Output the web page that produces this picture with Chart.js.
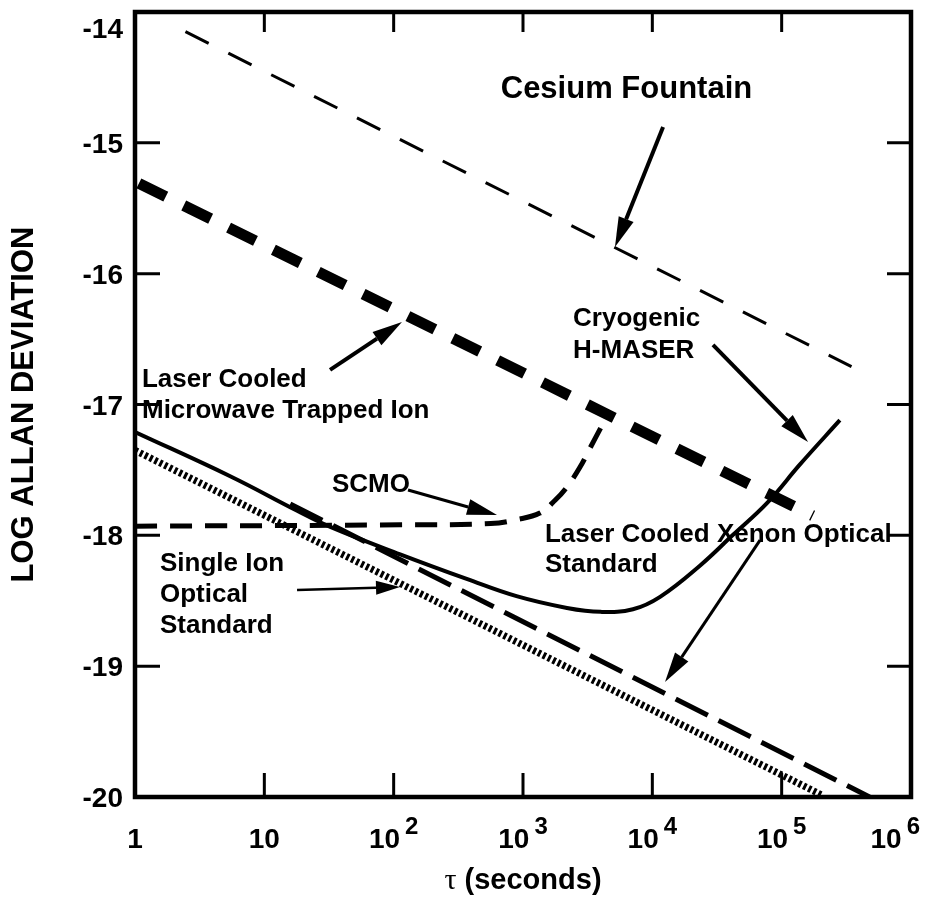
<!DOCTYPE html>
<html>
<head>
<meta charset="utf-8">
<script src="https://cdn.jsdelivr.net/npm/chart.js@4.4.0/dist/chart.umd.min.js"></script>
<style>
  html, body { margin: 0; padding: 0; background: #fff; }
</style>
</head>
<body>
<canvas id="myChart" width="928" height="901"></canvas>
<script>
// x values are log10(tau / s), y values are log10(Allan deviation)
const cesiumX = [0.39, 5.54];
const cesiumY = [-14.15, -16.71];
const trappedIonX = [0.03, 5.24];
const trappedIonY = [-15.31, -17.85];
const maserX = [0, 0.74, 1.25, 1.51, 2.05, 2.57, 2.95, 3.34, 3.6, 3.85, 4.06, 4.37, 4.62, 4.89, 5.14, 5.45];
const maserY = [-17.21, -17.55, -17.81, -17.935, -18.145, -18.335, -18.465, -18.555, -18.585, -18.565, -18.47, -18.23, -18.0, -17.75, -17.46, -17.12];
const scmoX = [0, 2.05, 2.75, 2.95, 3.13, 3.25, 3.34, 3.44, 3.52, 3.6];
const scmoY = [-17.93, -17.92, -17.91, -17.88, -17.83, -17.73, -17.63, -17.48, -17.33, -17.18];
const xenonX = [1.2, 5.68];
const xenonY = [-17.76, -20.0];
const singleIonX = [0, 5.32];
const singleIonY = [-17.35, -19.99];

const xTicks = [0, 1, 2, 3, 4, 5, 6];
const yTicks = [-14, -15, -16, -17, -18, -19, -20];

const pts = (xs, ys) => xs.map((v, i) => ({ x: v, y: ys[i] }));

const SANS = "'Liberation Sans', Arial, Helvetica, sans-serif";

// text notes and arrows, placed in data coordinates
const notes = [
  { lines: ["Cesium Fountain"], x: 3.8, y: -14.657, align: "center", size: 31 },
  { lines: ["Laser Cooled", "Microwave Trapped Ion"], x: 0.054, y: -16.866, gap: 0.237 },
  { lines: ["Cryogenic", "H-MASER"], x: 3.387, y: -16.4, gap: 0.245 },
  { lines: ["SCMO"], x: 1.523, y: -17.669 },
  { lines: ["Laser Cooled Xenon Optical", "Standard"], x: 3.17, y: -18.051, gap: 0.229 },
  { lines: ["Single Ion", "Optical", "Standard"], x: 0.193, y: -18.273, gap: 0.237 }
];
const arrows = [
  { from: [4.083, -14.879], to: [3.711, -15.796], lw: 4 },
  { from: [1.508, -16.736], to: [2.064, -16.369], lw: 4 },
  { from: [4.469, -16.545], to: [5.204, -17.287], lw: 4 },
  { from: [2.111, -17.654], to: [2.799, -17.845], lw: 3 },
  { from: [4.833, -18.036], to: [4.098, -19.121], lw: 3 },
  { from: [1.253, -18.418], to: [2.049, -18.395], lw: 2.5, head: 24, half: 7 }
];

function arrow(ctx, x1, y1, x2, y2, lw, head, half) {
  const a = Math.atan2(y2 - y1, x2 - x1);
  const bx = x2 - head * Math.cos(a), by = y2 - head * Math.sin(a);
  ctx.lineWidth = lw;
  ctx.beginPath(); ctx.moveTo(x1, y1); ctx.lineTo(bx, by); ctx.stroke();
  ctx.beginPath();
  ctx.moveTo(x2, y2);
  ctx.lineTo(bx + half * Math.sin(a), by - half * Math.cos(a));
  ctx.lineTo(bx - half * Math.sin(a), by + half * Math.cos(a));
  ctx.closePath(); ctx.fill();
}

const frame = {
  id: "frame",
  afterDatasetsDraw(chart) {
    const { ctx, chartArea: a, scales: { x, y } } = chart;
    ctx.save();
    ctx.strokeStyle = "#000";
    ctx.fillStyle = "#000";
    ctx.lineCap = "butt";

    // inward tick marks
    ctx.lineWidth = 3;
    ctx.beginPath();
    xTicks.slice(1, -1).forEach(v => {
      const px = x.getPixelForValue(v);
      ctx.moveTo(px, a.bottom); ctx.lineTo(px, a.bottom - 24);
      ctx.moveTo(px, a.top); ctx.lineTo(px, a.top + 20);
    });
    yTicks.slice(1, -1).forEach(v => {
      const py = y.getPixelForValue(v);
      ctx.moveTo(a.left, py); ctx.lineTo(a.left + 25, py);
      ctx.moveTo(a.right, py); ctx.lineTo(a.right - 24, py);
    });
    ctx.stroke();

    // box
    ctx.lineWidth = 4.5;
    ctx.strokeRect(a.left, a.top, a.right - a.left, a.bottom - a.top);

    // y tick labels
    ctx.font = "bold 28px " + SANS;
    ctx.textAlign = "right";
    ctx.textBaseline = "alphabetic";
    yTicks.forEach(v => {
      const py = Math.max(y.getPixelForValue(v), a.top + 16);
      ctx.fillText(String(v), a.left - 12, py + 10);
    });

    // x tick labels: 1, 10, 10^2 ...
    ctx.textAlign = "left";
    xTicks.forEach(v => {
      const px = x.getPixelForValue(v);
      const base = v === 0 ? "1" : "10";
      const sup = v > 1 ? String(v) : "";
      ctx.font = "bold 28px " + SANS;
      const wb = ctx.measureText(base).width;
      ctx.font = "bold 24px " + SANS;
      const ws = sup ? ctx.measureText(sup).width + 5 : 0;
      let left = px - (wb + ws) / 2;
      left = Math.min(left, 920 - wb - ws);
      ctx.font = "bold 28px " + SANS;
      ctx.fillText(base, left, 848);
      if (sup) {
        ctx.font = "bold 24px " + SANS;
        ctx.fillText(sup, left + wb + 5, 834);
      }
    });

    // x axis title
    const cx = (a.left + a.right) / 2;
    ctx.font = "30px 'Liberation Serif', 'Times New Roman', serif";
    const wt = ctx.measureText("\u03c4").width;
    ctx.font = "bold 29px " + SANS;
    const wr = ctx.measureText(" (seconds)").width;
    const tl = cx - (wt + wr) / 2;
    ctx.font = "30px 'Liberation Serif', 'Times New Roman', serif";
    ctx.fillText("\u03c4", tl, 889);
    ctx.font = "bold 29px " + SANS;
    ctx.fillText(" (seconds)", tl + wt, 889);

    // y axis title
    ctx.save();
    ctx.translate(33, (a.top + a.bottom) / 2);
    ctx.rotate(-Math.PI / 2);
    ctx.textAlign = "center";
    ctx.font = "bold 31px " + SANS;
    ctx.fillText("LOG ALLAN DEVIATION", 0, 0);
    ctx.restore();

    // notes
    notes.forEach(n => {
      ctx.font = "bold " + (n.size || 26) + "px " + SANS;
      ctx.textAlign = n.align || "left";
      n.lines.forEach((t, i) => {
        ctx.fillText(t, x.getPixelForValue(n.x), y.getPixelForValue(n.y - i * (n.gap || 0)));
      });
    });

    // arrows
    arrows.forEach(r => {
      arrow(ctx,
        x.getPixelForValue(r.from[0]), y.getPixelForValue(r.from[1]),
        x.getPixelForValue(r.to[0]), y.getPixelForValue(r.to[1]),
        r.lw, r.head || 30, r.half || 8);
    });
    ctx.restore();
  }
};

const line = (label, xs, ys, width, dash, extra) => Object.assign({
  label: label,
  data: pts(xs, ys),
  borderColor: "#000",
  borderWidth: width,
  borderDash: dash,
  borderCapStyle: "butt",
  fill: false,
  pointRadius: 0,
  tension: 0
}, extra || {});

const ctx = document.getElementById("myChart");
new Chart(ctx, {
  type: "line",
  data: {
    datasets: [
      line("Single Ion Optical Standard", singleIonX, singleIonY, 7, [3, 2.5]),
      line("Laser Cooled Xenon Optical Standard", xenonX, xenonY, 5, [36, 12]),
      line("Cryogenic H-MASER", maserX, maserY, 4, [], { tension: 0.4 }),
      line("SCMO", scmoX, scmoY, 5, [22, 13], { tension: 0.4 }),
      line("Laser Cooled Microwave Trapped Ion", trappedIonX, trappedIonY, 11, [30, 20]),
      line("Cesium Fountain", cesiumX, cesiumY, 3, [26, 22])
    ]
  },
  options: {
    responsive: false,
    animation: false,
    devicePixelRatio: 1,
    layout: { padding: { left: 135, top: 12, right: 17, bottom: 104 } },
    plugins: {
      legend: { display: false },
      tooltip: { enabled: false }
    },
    scales: {
      x: { type: "linear", min: 0, max: 6, display: false },
      y: { type: "linear", min: -20, max: -14, display: false }
    }
  },
  plugins: [frame]
});
</script>
</body>
</html>
